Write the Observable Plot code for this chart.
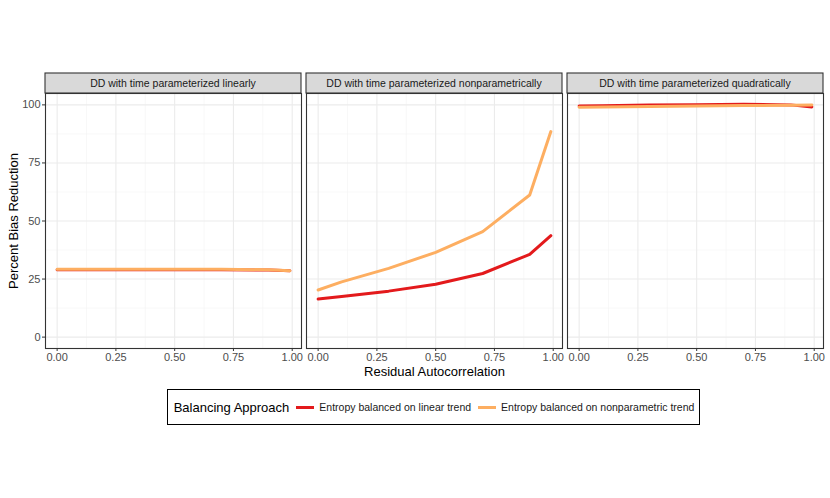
<!DOCTYPE html>
<html><head><meta charset="utf-8">
<script src="https://cdn.jsdelivr.net/npm/d3@7"></script>
<script src="https://cdn.jsdelivr.net/npm/@observablehq/plot@0.6"></script>
<style>
body{margin:0;background:#fff;font-family:"Liberation Sans",Arial,sans-serif;}
#legendwrap{display:flex;justify-content:center;margin-top:4px;margin-left:44px;width:779px;}
#legend{border:1px solid #000;display:flex;align-items:center;height:34px;padding:0 5px 0 6px;}
#legend .title{font-size:13px;color:#000;margin-right:7px;}
#legend .sw{display:inline-block;width:18px;height:3px;margin-right:5px;}
#legend .lab{font-size:10.5px;color:#1a1a1a;margin-right:7px;}
#legend .lab:last-child{margin-right:0;}
</style></head><body>
<div id="chart"></div>
<div id="legendwrap"><div id="legend"></div></div>
<script>
const rho = [0, 0.1, 0.3, 0.5, 0.7, 0.9, 0.99];
const panels = ["DD with time parameterized linearly", "DD with time parameterized nonparametrically", "DD with time parameterized quadratically"];
const series = ["Entropy balanced on linear trend", "Entropy balanced on nonparametric trend"];
const colors = ["#E31A1C", "#FDAE61"];
// Percent bias reduction per panel and series
const linearPanelLin = [29.0, 29.0, 29.0, 29.0, 29.0, 28.9, 28.6];
const linearPanelNp  = [29.2, 29.2, 29.2, 29.2, 29.2, 29.0, 28.6];
const nonparPanelLin = [16.4, 17.5, 19.8, 22.8, 27.4, 35.6, 43.7];
const nonparPanelNp  = [20.3, 23.8, 29.6, 36.5, 45.4, 61.2, 88.5];
const quadPanelLin   = [99.5, 99.6, 99.9, 100.1, 100.3, 100.0, 99.1];
const quadPanelNp    = [99.0, 99.1, 99.3, 99.5, 99.7, 99.8, 100.0];
const yTicks = [0, 25, 50, 75, 100];
const yMinor = [12.5, 37.5, 62.5, 87.5];
const xTicks = [0, 0.25, 0.5, 0.75, 1];
const xMinor = [0.125, 0.375, 0.625, 0.875];

const table = [];
function add(panel, s, vals) { vals.forEach((v, i) => table.push({panel, series: s, rho: rho[i], pbr: v})); }
add(panels[0], series[0], linearPanelLin); add(panels[0], series[1], linearPanelNp);
add(panels[1], series[0], nonparPanelLin); add(panels[1], series[1], nonparPanelNp);
add(panels[2], series[0], quadPanelLin);   add(panels[2], series[1], quadPanelNp);

const plot = Plot.plot({
  width: 830, height: 385,
  marginTop: 93, marginLeft: 44, marginRight: 7, marginBottom: 37,
  style: {fontFamily: '"Liberation Sans", Arial, sans-serif', fontSize: "11px", background: "#fff", color: "#4d4d4d"},
  fx: {domain: panels, paddingInner: 0.021, paddingOuter: 0, axis: null},
  x: {domain: [-0.0495, 1.0395]},
  y: {domain: [-4.9, 104.9]},
  color: {domain: series, range: colors},
  marks: [
    Plot.ruleX(xMinor, {stroke: "#f4f4f4", strokeWidth: 0.6}),
    Plot.ruleY(yMinor, {stroke: "#f4f4f4", strokeWidth: 0.6}),
    Plot.ruleX(xTicks, {stroke: "#ebebeb", strokeWidth: 1.1}),
    Plot.ruleY(yTicks, {stroke: "#ebebeb", strokeWidth: 1.1}),
    Plot.line(table, {fx: "panel", x: "rho", y: "pbr", z: "series", stroke: "series", strokeWidth: 3}),
    Plot.frame({stroke: "#333", strokeWidth: 1.1}),
    Plot.axisX({ticks: xTicks, tickFormat: d3.format(".2f"), tickSize: 3, tickPadding: 2, stroke: "#333", fill: "#4d4d4d",
      label: "Residual Autocorrelation", labelAnchor: "center", labelArrow: "none", labelOffset: 27}),
    Plot.axisY({ticks: yTicks, tickSize: 3, tickPadding: 2, stroke: "#333", fill: "#4d4d4d",
      label: "Percent Bias Reduction", labelAnchor: "center", labelArrow: "none", labelOffset: 37})
  ]
});
document.getElementById("chart").appendChild(plot);

const svg = d3.select(plot);
svg.selectAll('[aria-label="x-axis label"] text, [aria-label="y-axis label"] text')
  .attr("fill", "#000").style("font-size", "13px")
  .each(function() { this.textContent = this.textContent.replace(/[\u2190-\u2193]/g, "").trim(); });

// facet strips
const fx = plot.scale("fx");
const strips = svg.append("g");
panels.forEach(p => {
  const x0 = fx.apply(p), w = fx.bandwidth;
  strips.append("rect").attr("x", x0).attr("y", 73).attr("width", w).attr("height", 20)
    .attr("fill", "#d9d9d9").attr("stroke", "#333").attr("stroke-width", 1.1);
  strips.append("text").attr("x", x0 + w / 2).attr("y", 83).attr("dy", "0.35em")
    .attr("text-anchor", "middle").attr("fill", "#1a1a1a").style("font-size", "10.5px").text(p);
});

// legend
const leg = d3.select("#legend");
leg.append("span").attr("class", "title").text("Balancing Approach");
series.forEach((s, i) => {
  leg.append("span").attr("class", "sw").style("background", colors[i]);
  leg.append("span").attr("class", "lab").text(s);
});
</script>
</body></html>
